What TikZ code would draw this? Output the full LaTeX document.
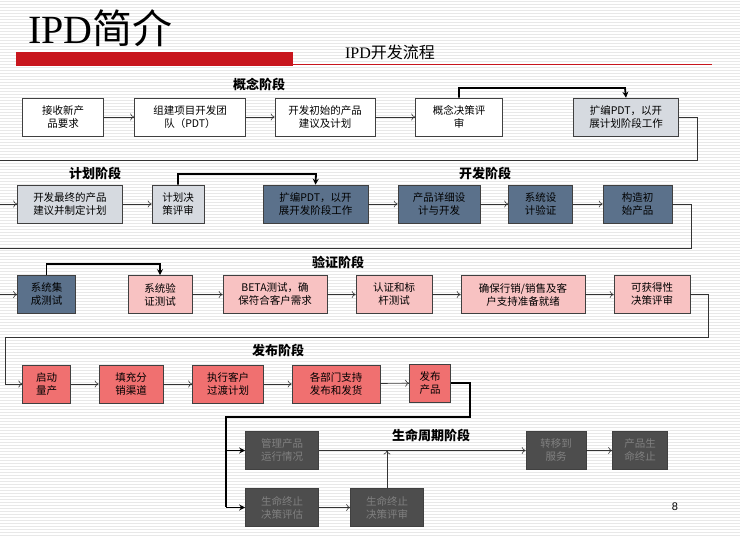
\documentclass[tikz,border=0pt]{standalone}
\usepackage{fontspec}
\setmainfont{Liberation Sans}
\newfontfamily\cjk{Noto Sans CJK SC}
\newfontfamily\titlefont{Liberation Serif}
\usetikzlibrary{arrows.meta}
\definecolor{lgray}{HTML}{D6DAE0}
\definecolor{slate}{HTML}{5B718B}
\definecolor{pinkb}{HTML}{F8C2C2}
\definecolor{salmon}{HTML}{F07070}
\definecolor{dgray}{HTML}{4D4D4D}
\definecolor{redbar}{HTML}{C8161D}
\begin{document}
\begin{tikzpicture}[x=1pt,y=-1pt,
  bx/.style={draw=black!75,line width=0.6pt,minimum height=38pt,inner sep=1pt,align=center,font=\cjk\fontsize{10.5}{13}\selectfont},
  wbox/.style={bx,fill=white},
  gbox/.style={bx,fill=lgray},
  sbox/.style={bx,fill=slate},
  pbox/.style={bx,fill=pinkb},
  rbox/.style={bx,fill=salmon},
  kbox/.style={bx,fill=dgray,text=black!50},
  ln/.style={draw=black!80,line width=0.6pt},
  ar/.style={ln,-{To[length=4pt,width=7pt]}},
  bold/.style={draw=black,line width=1.8pt,-{Stealth[length=6pt,width=6pt]}},
  phase/.style={font=\cjk\bfseries\fontsize{13}{15}\selectfont}]
\useasboundingbox (0,0) rectangle (740,537);
\fill[white] (0,0) rectangle (740,537);
\foreach \y in {1,4,...,537} \draw[black!9,line width=0.5pt] (0,\y) -- (740,\y);
% header
\node[anchor=west,inner sep=0] (title) at (28,28) {\fontsize{40}{44}\selectfont\titlefont IPD\cjk 简介};
\fill[redbar] (16,52) rectangle (293,66);
\draw[redbar,line width=1.2pt] (293,64.5) -- (712,64.5);
\node[inner sep=0] (sub) at (390,52) {\fontsize{16}{18}\selectfont\titlefont IPD\cjk 开发流程};
% phase labels
\node[phase] (p1) at (259,84) {概念阶段};
\node[phase] (p2) at (95,173) {计划阶段};
\node[phase] (p3) at (485,173) {开发阶段};
\node[phase] (p4) at (338,262) {验证阶段};
\node[phase] (p5) at (278,350) {发布阶段};
\node[phase] (p6) at (431,435) {生命周期阶段};
% row 1
\node[wbox,minimum width=81pt] (a1) at (63,117) {接收新产\\品要求};
\node[wbox,minimum width=111pt] (a2) at (190,117) {组建项目开发团\\队（PDT）};
\node[wbox,minimum width=100pt] (a3) at (325,117) {开发初始的产品\\建议及计划};
\node[wbox,minimum width=87pt] (a4) at (459,117) {概念决策评\\审};
\node[gbox,minimum width=105pt] (a5) at (626,117) {扩编PDT，以开\\展计划阶段工作};
\draw[ar] (a1) -- (a2); \draw[ar] (a2) -- (a3); \draw[ar] (a3) -- (a4);
\draw[bold] (a4.north) |- (625,88) -- (a5.north);
% row 2
\node[gbox,minimum width=105pt] (b1) at (70,204) {开发最终的产品\\建议并制定计划};
\node[gbox,minimum width=52pt] (b2) at (178,204) {计划决\\策评审};
\node[sbox,minimum width=105pt] (b3) at (315.5,204) {扩编PDT，以开\\展开发阶段工作};
\node[sbox,minimum width=82pt] (b4) at (439,204) {产品详细设\\计与开发};
\node[sbox,minimum width=64pt] (b5) at (540.5,204) {系统设\\计验证};
\node[sbox,minimum width=69pt] (b6) at (637.5,204) {构造初\\始产品};
\coordinate (w1) at (697,160); \coordinate (w1l) at (0,160); \coordinate (in2) at (0,204);
\draw[ln] (a5.east) -| (w1) -- (w1l);
\draw[ar] (in2) -- (b1);
\draw[ar] (b1) -- (b2); \draw[ar] (b3) -- (b4); \draw[ar] (b4) -- (b5); \draw[ar] (b5) -- (b6);
\draw[bold] (b2.north) |- (316,174) -- (b3.north);
% row 3
\node[sbox,minimum width=58pt] (c1) at (46.5,294.5) {系统集\\成测试};
\node[pbox,minimum width=64pt] (c2) at (160,294.5) {系统验\\证测试};
\node[pbox,minimum width=104pt] (c3) at (275,294.5) {BETA测试，确\\保符合客户需求};
\node[pbox,minimum width=76pt] (c4) at (394,294.5) {认证和标\\杆测试};
\node[pbox,minimum width=124pt] (c5) at (523,294.5) {确保行销/销售及客\\户支持准备就绪};
\node[pbox,minimum width=76pt] (c6) at (652,294.5) {可获得性\\决策评审};
\coordinate (w2) at (691,248); \coordinate (w2l) at (0,248); \coordinate (in3) at (0,294.5);
\draw[ln] (b6.east) -| (w2) -- (w2l);
\draw[ar] (in3) -- (c1);
\draw[ar] (c2) -- (c3); \draw[ar] (c3) -- (c4); \draw[ar] (c4) -- (c5); \draw[ar] (c5) -- (c6);
\draw[bold] (c1.north) |- (160,264) -- (c2.north);
% row 4
\node[rbox,minimum width=48pt] (d1) at (46.7,384) {启动\\量产};
\node[rbox,minimum width=64pt] (d2) at (131,384) {填充分\\销渠道};
\node[rbox,minimum width=71pt] (d3) at (228,384) {执行客户\\过渡计划};
\node[rbox,minimum width=88pt] (d4) at (336,384) {各部门支持\\发布和发货};
\node[rbox,minimum width=41pt] (d5) at (430,383) {发布\\产品};
\coordinate (w3) at (708,337); \coordinate (w3l) at (5,337); \coordinate (in4) at (5,384);
\draw[ln] (c6.east) -| (w3) -- (w3l) -- (in4);
\draw[ar] (in4) -- (d1);
\draw[ar] (d1) -- (d2); \draw[ar] (d2) -- (d3); \draw[ar] (d3) -- (d4); \draw[ar] (d4) -- (d5);
% row 5
\node[kbox,minimum width=73pt] (e1) at (282,450.5) {管理产品\\运行情况};
\node[kbox,minimum width=60pt] (e2) at (556,450.5) {转移到\\服务};
\node[kbox,minimum width=55pt] (e3) at (640,450.5) {产品生\\命终止};
\node[kbox,minimum width=73pt] (e4) at (282,507.5) {生命终止\\决策评估};
\node[kbox,minimum width=73pt] (e5) at (387,507.5) {生命终止\\决策评审};
\coordinate (t1) at (470,383); \coordinate (t2) at (470,417); \coordinate (t3) at (226,417);
\coordinate (t4) at (226,450.5); \coordinate (t5) at (226,507.5); \coordinate (m) at (387,450.5);
\draw[black,line width=1.8pt] (d5.east |- t1) -- (t1) -- (t2) -- (t3) -- (t5);
\draw[bold] (t4) -- (e1); \draw[bold] (t5) -- (e4);
\draw[ar] (e1) -- (e2); \draw[ar] (e2) -- (e3); \draw[ar] (e4) -- (e5);
\draw[ar] (e5) -- (m);
\node[font=\fontsize{11}{13}\selectfont] (pg) at (675,507) {8};
\end{tikzpicture}
\end{document}
